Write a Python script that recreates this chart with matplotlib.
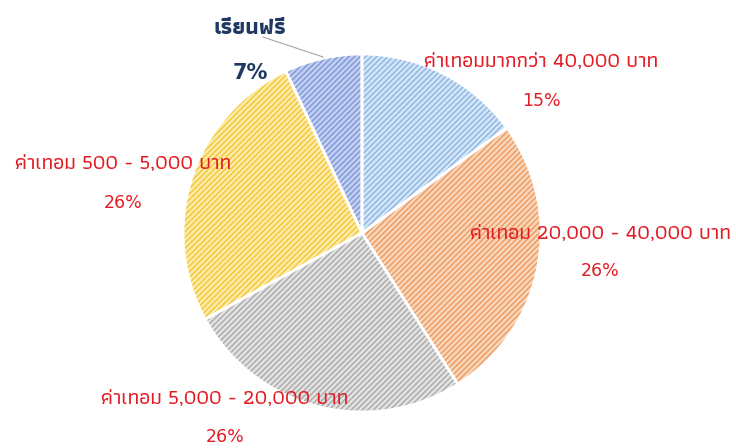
import matplotlib
matplotlib.use("Agg")
import matplotlib.pyplot as plt
from matplotlib import font_manager
from matplotlib.ft2font import FT2Font

# need a font with Thai glyphs; Athiti handles tone marks nicely
names = set()
for path in sorted(font_manager.findSystemFonts()):
    try:
        if ord("ก") in FT2Font(path).get_charmap():
            names.add(font_manager.FontProperties(fname=path).get_name())
    except Exception:
        pass
thai_font = "Athiti" if "Athiti" in names else (sorted(names)[0] if names else None)
thai_fam = ([thai_font] if thai_font else []) + ["DejaVu Sans"]
plt.rcParams["font.family"] = thai_fam

labels = ["ค่าเทอมมากกว่า 40,000 บาท", "ค่าเทอม 20,000 - 40,000 บาท",
          "ค่าเทอม 5,000 - 20,000 บาท", "ค่าเทอม 500 - 5,000 บาท", "เรียนฟรี"]
shares = [15, 26, 26, 26, 7]
face_cols = ["#d3e5f6", "#f8d6bc", "#e2e2e2", "#fcebaa", "#c2cff0"]
line_cols = ["#8cb6e2", "#ee9a5c", "#a9a9a9", "#f4c633", "#7d98d8"]

H = 448
fig = plt.figure(figsize=(7.36, 4.48), dpi=100)
ax = fig.add_axes([0, 0, 1, 1])

plt.rcParams["hatch.linewidth"] = 1.0
wedges, _ = ax.pie(shares, startangle=90, counterclock=False,
                   center=(362, H - 233), radius=179, colors=face_cols,
                   wedgeprops=dict(linewidth=0))
for w, c in zip(wedges, line_cols):
    w.set_hatch("//////")
    w.set_edgecolor(c)
# white borders on top
ax.pie(shares, startangle=90, counterclock=False, center=(362, H - 233),
       radius=179, wedgeprops=dict(fill=False, edgecolor="white", linewidth=2))

ax.set_xlim(0, 736)
ax.set_ylim(0, H)
ax.set_aspect("equal")
ax.axis("off")

red = "#e31b23"
navy = "#1f3864"
pos = [(541, 62, 101), (600, 234, 271), (225, 399, 437), (123, 164, 203)]
for (x, y1, y2), lab, s in zip(pos, labels[:4], shares[:4]):
    ax.text(x, H - y1, lab, color=red, fontsize=15, fontweight="medium",
            ha="center", va="center")
    ax.text(x, H - y2, f"{s}%", color=red, fontsize=12.5, ha="center",
            va="center", family="DejaVu Sans")

ax.text(250, H - 28, labels[4], color=navy, fontsize=16, fontweight="bold",
        ha="center", va="center")
ax.text(250, H - 73, f"{shares[4]}%", color=navy, fontsize=15, fontweight="bold",
        ha="center", va="center", family="DejaVu Sans")
ax.plot([263, 323], [H - 37, H - 57], color="#a6a6a6", linewidth=0.8)

fig.savefig("out.png", dpi=100)
